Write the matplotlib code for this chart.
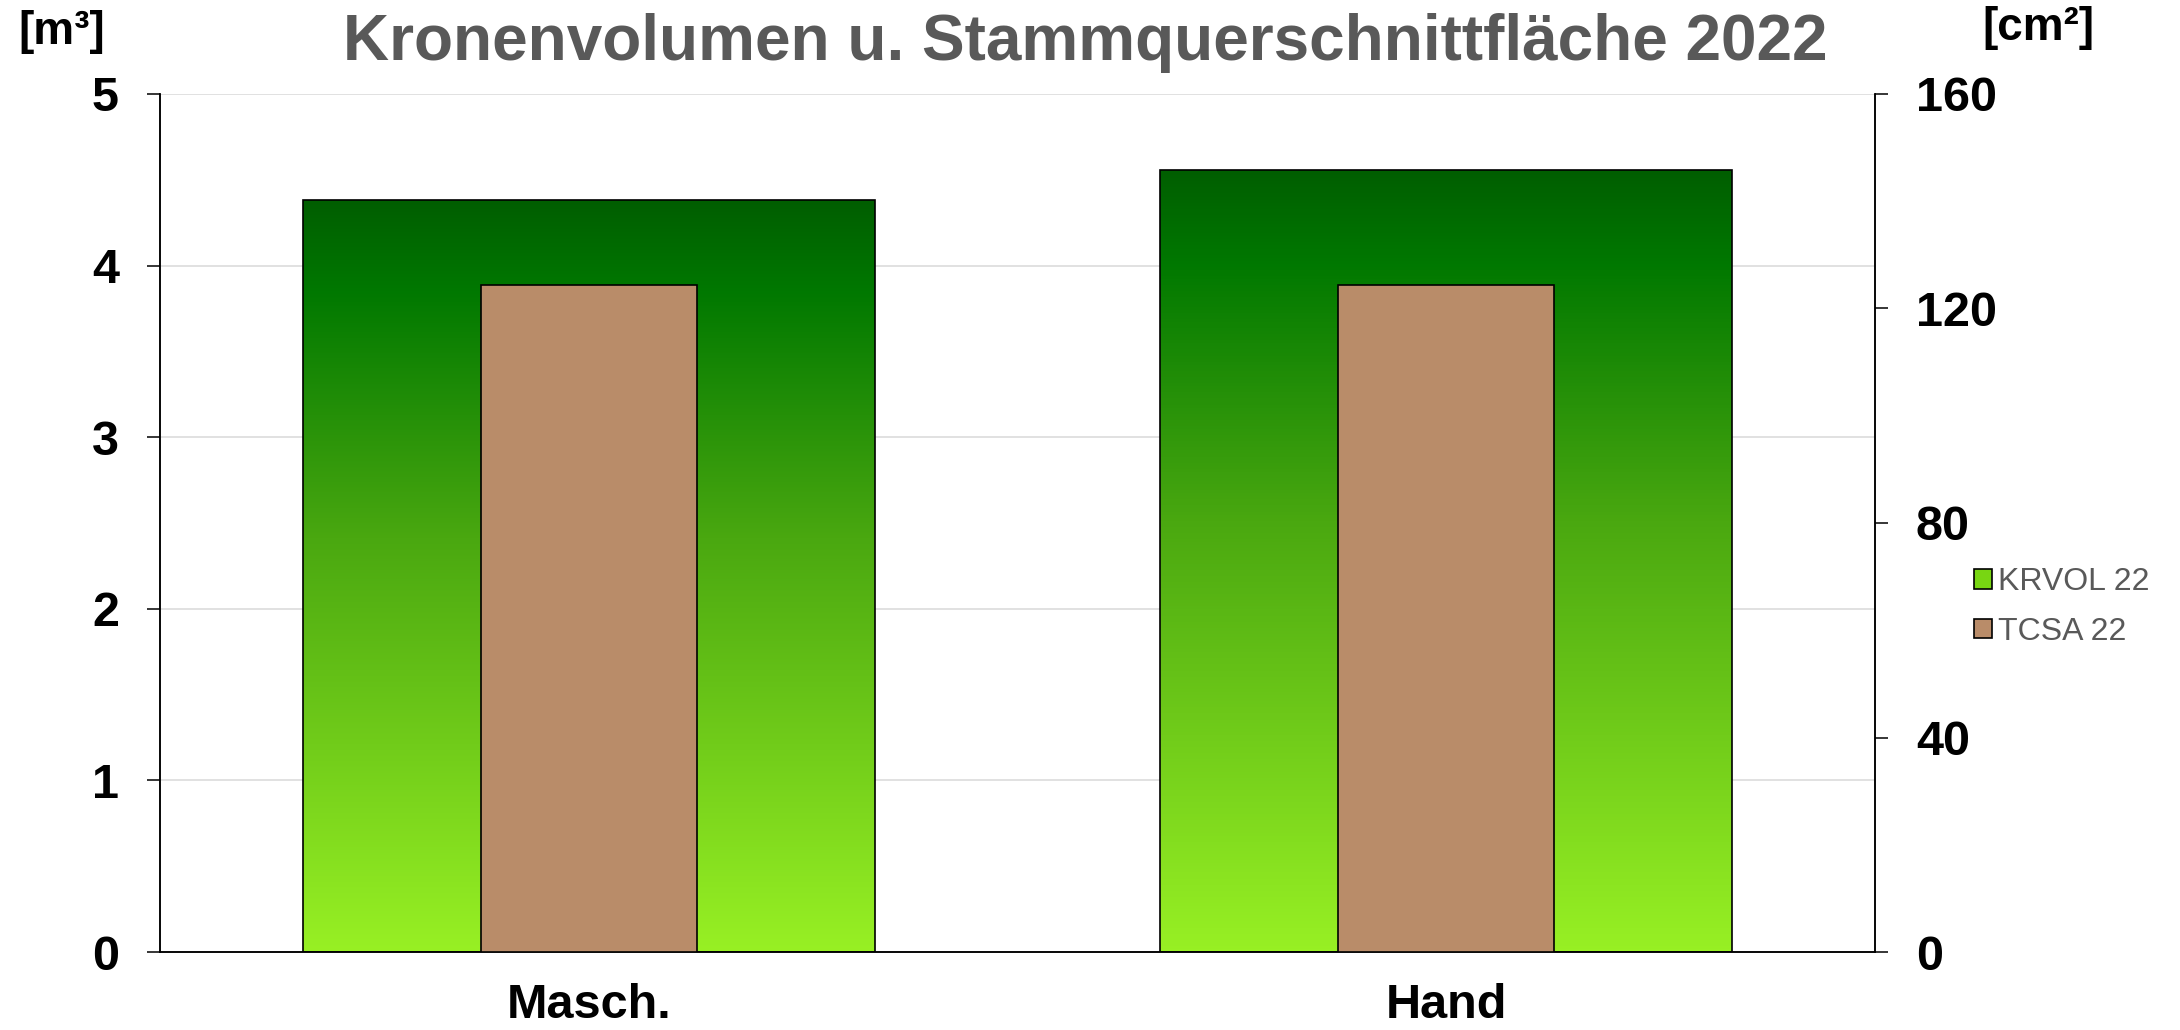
import matplotlib
matplotlib.use('Agg')
import matplotlib.pyplot as plt
import numpy as np
from matplotlib.colors import LinearSegmentedColormap
from matplotlib.patches import Patch

plt.rcParams['font.family'] = ['Liberation Sans', 'DejaVu Sans']

# Daten
kategorien = ['Masch.', 'Hand']
krvol_22 = [4.38, 4.56]      # Kronenvolumen [m³]
tcsa_22 = [124.4, 124.4]     # Stammquerschnittfläche [cm²]
links_ticks = [0, 1, 2, 3, 4, 5]
rechts_ticks = [0, 40, 80, 120, 160]
titel = 'Kronenvolumen u. Stammquerschnittfläche 2022'

grau = '#595959'
braun = '#B98C69'

# Verlauf von oben (dunkelgrün) nach unten (hellgrün)
verlauf = LinearSegmentedColormap.from_list(
    'gruen', [(0.0, '#98F024'), (0.55, '#4AA810'), (0.88, '#007800'), (1.0, '#005E00')])

W, H = 2180, 1030
fig = plt.figure(figsize=(W / 100, H / 100), dpi=100)
ax = fig.add_axes([160 / W, (H - 952) / H, (1875 - 160) / W, (952 - 94) / H])
ax2 = ax.twinx()

x = np.arange(len(kategorien))

# Grüne Balken mit Farbverlauf
balken = ax.bar(x, krvol_22, width=0.667, facecolor='none', edgecolor='black',
                linewidth=1.2, zorder=3)
grad = np.linspace(1, 0, 256).reshape(-1, 1)
for b in balken:
    x0, y0 = b.get_x(), b.get_y()
    im = ax.imshow(grad, cmap=verlauf, aspect='auto', zorder=2,
                   extent=[x0, x0 + b.get_width(), y0, y0 + b.get_height()])
    im.set_clip_path(b)

# Braune Balken auf der rechten Achse
ax2.bar(x, tcsa_22, width=0.252, color=braun, edgecolor='black', linewidth=1.2, zorder=3)

ax.set_xlim(-0.5, 1.5)
ax.set_ylim(0, 5)
ax2.set_ylim(0, 160)
ax.set_yticks(links_ticks)
ax2.set_yticks(rechts_ticks)
ax.set_xticks(x)
ax.set_xticklabels(kategorien)

ax.yaxis.grid(True, color='#D9D9D9', linewidth=1.1, zorder=0)
ax.set_axisbelow(True)

for a in (ax, ax2):
    a.spines['top'].set_visible(False)
    for s in ('left', 'right', 'bottom'):
        a.spines[s].set_linewidth(1.1)
        a.spines[s].set_color('black')

ax.tick_params(axis='y', direction='out', length=9.5, width=1.1, pad=20,
               labelsize=35)
ax2.tick_params(axis='y', direction='out', length=9.5, width=1.1, pad=20,
                labelsize=35)
ax.tick_params(axis='x', length=0, pad=22, labelsize=35)
for lbl in ax.get_yticklabels() + ax2.get_yticklabels() + ax.get_xticklabels():
    lbl.set_fontweight('bold')

# Titel und Einheiten
fig.text(0.498, 1 - 43 / H, titel, ha='center', va='center', fontsize=46,
         fontweight='bold', color=grau)
fig.text(18 / W, 1 - 10 / H, '[m³]', ha='left', va='top', fontsize=33, fontweight='bold')
fig.text(1982 / W, 1 - 6 / H, '[cm²]', ha='left', va='top', fontsize=33, fontweight='bold')

# Legende
handles = [Patch(facecolor='#78D612', edgecolor='black', linewidth=1.2),
           Patch(facecolor=braun, edgecolor='black', linewidth=1.2)]
leg = fig.legend(handles, ['KRVOL 22', 'TCSA 22'], loc='center left',
                 bbox_to_anchor=(1974 / W, 1 - 607 / H), frameon=False,
                 fontsize=23, handlelength=0.55, handleheight=0.55,
                 handletextpad=0.2, labelspacing=0.6, borderaxespad=0, borderpad=0)
for t in leg.get_texts():
    t.set_color(grau)

fig.savefig('out.png', dpi=100)
